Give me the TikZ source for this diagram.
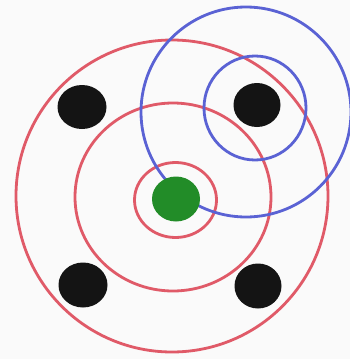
\documentclass[tikz,border=0pt]{standalone}
\definecolor{ringred}{RGB}{224,90,104}
\definecolor{ringblue}{RGB}{90,98,212}
\definecolor{dotgreen}{RGB}{34,140,40}
\definecolor{bgwhite}{RGB}{250,250,250}
\tikzset{
  redring/.style={draw=ringred,line width=2.8pt},
  bluering/.style={draw=ringblue,line width=2.8pt},
  blackdot/.style={fill=black!92},
  greendot/.style={fill=dotgreen}
}
\begin{document}
\begin{tikzpicture}[x=1pt,y=-1pt]
\fill[bgwhite] (0,0) rectangle (350,359);
\useasboundingbox (0,0) rectangle (350,359);
% red rings
\draw[redring] (172,196) ellipse [x radius=156,y radius=156];
\draw[redring] (173,197) ellipse [x radius=98,y radius=94];
\draw[redring] (175.5,200) ellipse [x radius=41,y radius=37.5];
% blue rings
\draw[bluering] (246,112) circle [radius=105];
\draw[bluering] (255,108) ellipse [x radius=51,y radius=52];
% black dots
\fill[blackdot] (82,107) ellipse [x radius=24.5,y radius=22];
\fill[blackdot] (257,105) ellipse [x radius=23.5,y radius=22];
\fill[blackdot] (83,285) ellipse [x radius=24.5,y radius=22.5];
\fill[blackdot] (258,286) ellipse [x radius=23.5,y radius=22.5];
% green dot
\fill[greendot] (176,199) ellipse [x radius=24,y radius=22.5];
\end{tikzpicture}
\end{document}
